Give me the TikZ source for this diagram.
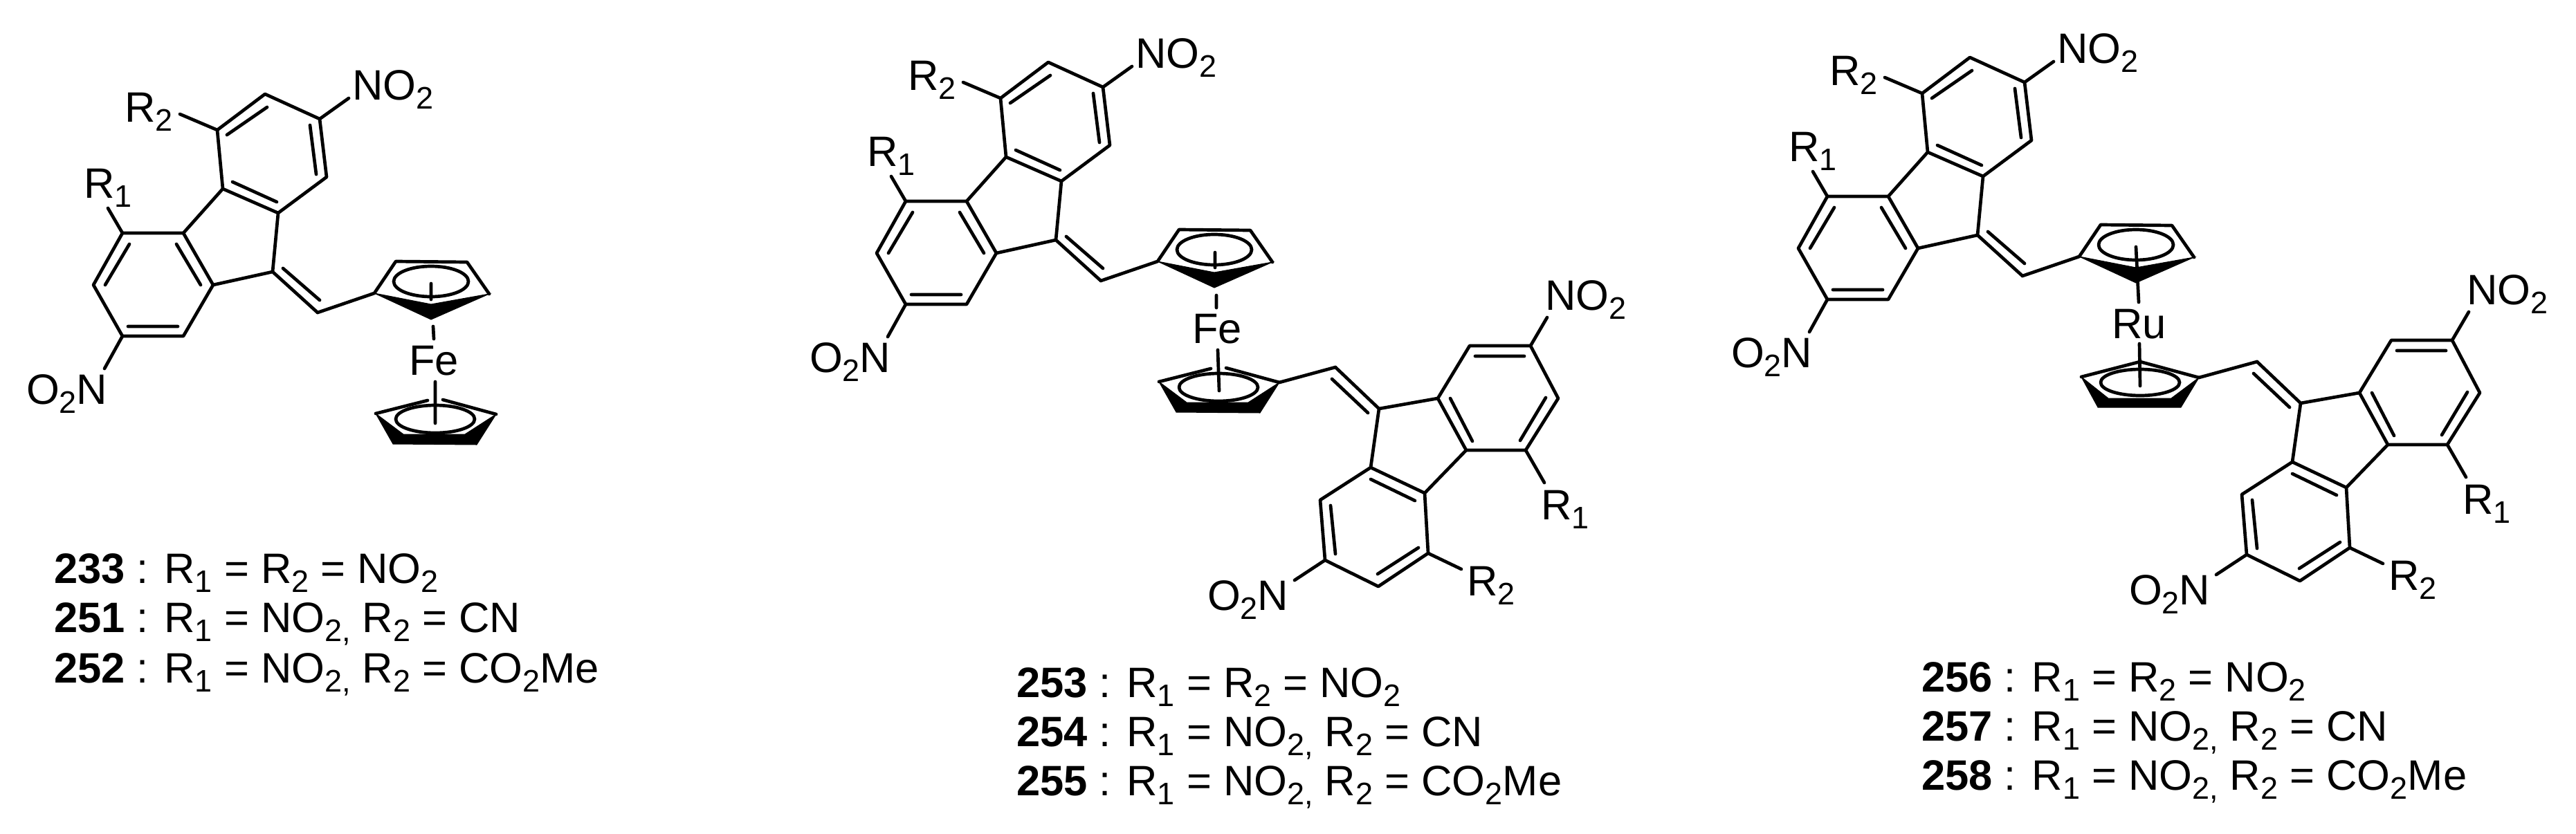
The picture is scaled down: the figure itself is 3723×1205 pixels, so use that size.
\documentclass[tikz,border=0pt]{standalone}
\usepackage{fontspec}
\setmainfont{Liberation Sans}
\newcommand{\chs}[1]{\raisebox{-13pt}{\fontsize{45}{45}\selectfont #1}}
\newcommand{\NOtwo}{NO\chs{2}}
\newcommand{\OtwoN}{O\chs{2}N}
\tikzset{
  bond/.style={line width=4.7pt,line cap=round,line join=round,black},
  wedge/.style={fill=black,draw=black,line width=1pt,line join=miter},
  lab/.style={anchor=base west,inner sep=0pt,outer sep=0pt,font=\fontsize{61.5}{72}\selectfont,text=black}
}
% bonds shared by each fluorenylidene unit; every point is a named coordinate
\newcommand{\molbonds}[1]{
  \draw[bond] (#1t1)--(#1t2)--(#1t3)--(#1t4)--(#1t5)--(#1t6)--cycle;
  \draw[bond] (#1l1)--(#1l2)--(#1l3)--(#1l4)--(#1l5)--(#1l6)--cycle;
  \draw[bond] (#1t6)--(#1l1) (#1t5)--(#1c9)--(#1l6) (#1c9)--(#1ch);
  \draw[bond] (#1t3)--(#1en1) (#1l4)--(#1en2) (#1t1)--(#1er2) (#1l2)--(#1er1);
  \draw[bond] (#1i1a)--(#1i1b) (#1i2a)--(#1i2b) (#1i3a)--(#1i3b) (#1i4a)--(#1i4b)
              (#1i5a)--(#1i5b) (#1i6a)--(#1i6b) (#1i7a)--(#1i7b);
}
% upper unit, as in compound 233, shifted by (#2,#3)
\newcommand{\upperunit}[3]{
 \begin{scope}[shift={(#2,#3)}]
  \coordinate (#1t1) at (314,188); \coordinate (#1t2) at (383,136); \coordinate (#1t3) at (462,172);
  \coordinate (#1t4) at (472,256); \coordinate (#1t5) at (402,308); \coordinate (#1t6) at (322,273);
  \coordinate (#1l1) at (265,337); \coordinate (#1l2) at (177,337); \coordinate (#1l3) at (135,412);
  \coordinate (#1l4) at (177,486); \coordinate (#1l5) at (265,486); \coordinate (#1l6) at (308,412);
  \coordinate (#1c9) at (394,393); \coordinate (#1ch) at (459,452);
  \coordinate (#1en1) at (504,142); \coordinate (#1en2) at (151,533);
  \coordinate (#1er2) at (260,165); \coordinate (#1er1) at (156,301);
  \coordinate (#1i1a) at (409,388); \coordinate (#1i1b) at (462,434);
  \coordinate (#1i2a) at (328,195); \coordinate (#1i2b) at (386,155);
  \coordinate (#1i3a) at (448,181); \coordinate (#1i3b) at (457,252);
  \coordinate (#1i4a) at (336,263); \coordinate (#1i4b) at (400,292);
  \coordinate (#1i5a) at (255,353); \coordinate (#1i5b) at (290,412);
  \coordinate (#1i6a) at (187,353); \coordinate (#1i6b) at (152,412);
  \coordinate (#1i7a) at (185,472); \coordinate (#1i7b) at (257,472);
  \node[lab] (#1no) at (509,144) {\NOtwo};
  \node[lab] (#1on) at (38,584) {\OtwoN};
  \node[lab] (#1r2) at (180,176) {R\chs{2}};
  \node[lab] (#1r1) at (121,286) {R\chs{1}};
  \molbonds{#1}
  % upper cyclopentadienyl ring
  \coordinate (#1cL) at (541,424); \coordinate (#1cTL) at (572,378); \coordinate (#1cTR) at (675,379);
  \coordinate (#1cR) at (707,425); \coordinate (#1cB) at (623,462); \coordinate (#1cN) at (623,440);
  \coordinate (#1cC) at (623,407);
  \draw[bond] (#1ch)--(#1cL)--(#1cTL)--(#1cTR)--(#1cR);
  \fill[wedge] (#1cL)--(#1cB)--(#1cR)--(#1cN)--cycle;
  \draw[bond] (#1cC) ellipse [x radius=54pt,y radius=22pt];
 \end{scope}
}
% lower unit, as in compound 253, shifted by (#2,#3)
\newcommand{\lowerunit}[3]{
 \begin{scope}[shift={(#2,#3)}]
  \coordinate (#1t1) at (2064,800); \coordinate (#1t2) at (1992,848); \coordinate (#1t3) at (1915,810);
  \coordinate (#1t4) at (1908,723); \coordinate (#1t5) at (1981,676); \coordinate (#1t6) at (2059,713);
  \coordinate (#1l1) at (2119,651); \coordinate (#1l2) at (2205,651); \coordinate (#1l3) at (2252,576);
  \coordinate (#1l4) at (2212,500); \coordinate (#1l5) at (2124,500); \coordinate (#1l6) at (2078,576);
  \coordinate (#1c9) at (1993,591); \coordinate (#1ch) at (1930,531);
  \coordinate (#1en1) at (1871,839); \coordinate (#1en2) at (2236,459);
  \coordinate (#1er2) at (2112,823); \coordinate (#1er1) at (2232,698);
  \coordinate (#1i1a) at (1925,548); \coordinate (#1i1b) at (1977,597);
  \coordinate (#1i2a) at (2050,792); \coordinate (#1i2b) at (1991,830);
  \coordinate (#1i3a) at (1930,801); \coordinate (#1i3b) at (1923,731);
  \coordinate (#1i4a) at (1981,693); \coordinate (#1i4b) at (2045,724);
  \coordinate (#1i5a) at (2128,638); \coordinate (#1i5b) at (2096,576);
  \coordinate (#1i6a) at (2197,637); \coordinate (#1i6b) at (2234,575);
  \coordinate (#1i7a) at (2203,515); \coordinate (#1i7b) at (2132,515);
  \node[lab] (#1no) at (2233,448) {\NOtwo};
  \node[lab] (#1on) at (1745,882) {\OtwoN};
  \node[lab] (#1r2) at (2120,861) {R\chs{2}};
  \node[lab] (#1r1) at (2227,751) {R\chs{1}};
  \molbonds{#1}
 \end{scope}
}
% lower ring with a gap at the apex (ferrocene), shifted by (#2,#3)
\newcommand{\lowercp}[3]{
 \begin{scope}[shift={(#2,#3)}]
  \coordinate (#1dL) at (543,598); \coordinate (#1dGa) at (618,579); \coordinate (#1dGb) at (640,578);
  \coordinate (#1dR) at (717,599); \coordinate (#1dBL) at (568,642); \coordinate (#1dBR) at (689,643);
  \coordinate (#1dIL) at (583,628); \coordinate (#1dIR) at (672,628); \coordinate (#1dC) at (629,606);
  \draw[bond] (#1dL)--(#1dGa) (#1dGb)--(#1dR);
  \fill[wedge] (#1dL)--(#1dBL)--(#1dBR)--(#1dR)--(#1dIR)--(#1dIL)--cycle;
  \draw[bond] (#1dC) ellipse [x radius=57pt,y radius=20pt];
 \end{scope}
}
\newcommand{\serieslabel}[5]{ % name, x, y, bold number, rest
  \node[lab] (#1) at (#2,#3) {\textbf{#4} : #5};
}
\begin{document}
\begin{tikzpicture}[x=1pt,y=-1pt]
\useasboundingbox (0,0) rectangle (3723,1205);
\fill[white] (0,0) rectangle (3723,1205);

% ---- compound 233/251/252 ----
\upperunit{a}{0}{0}
\node[lab] (afe) at (591,542) {Fe};
\coordinate (as1) at (623,410); \coordinate (as2) at (623,433);
\coordinate (as3) at (626,472); \coordinate (as4) at (627,490);
\coordinate (as5) at (629,552); \coordinate (as6) at (629,612);
\lowercp{a}{0}{0}
\draw[bond] (as1)--(as2) (as3)--(as4) (as5)--(as6);
\serieslabel{la}{78}{843}{233}{R\chs{1} = R\chs{2} = \NOtwo}
\serieslabel{lb}{78}{914}{251}{R\chs{1} = NO\chs{2,} R\chs{2} = CN}
\serieslabel{lc}{78}{987}{252}{R\chs{1} = NO\chs{2,} R\chs{2} = CO\chs{2}Me}

% ---- compound 253/254/255 ----
\upperunit{b}{1132}{-46}
\node[lab] (bfe) at (1723,496) {Fe};
\coordinate (bs1) at (1756,365); \coordinate (bs2) at (1756,387);
\coordinate (bs3) at (1758,427); \coordinate (bs4) at (1758,445);
\coordinate (bs5) at (1760,506); \coordinate (bs6) at (1762,565);
\lowercp{b}{1132}{-46}
\lowerunit{c}{0}{0}
\draw[bond] (bs1)--(bs2) (bs3)--(bs4) (bs5)--(bs6);
\draw[bond] (bdR)--(cch);
\serieslabel{ld}{1469}{1008}{253}{R\chs{1} = R\chs{2} = \NOtwo}
\serieslabel{le}{1469}{1079}{254}{R\chs{1} = NO\chs{2,} R\chs{2} = CN}
\serieslabel{lf}{1469}{1150}{255}{R\chs{1} = NO\chs{2,} R\chs{2} = CO\chs{2}Me}

% ---- compound 256/257/258 ----
\upperunit{d}{2464}{-53}
\node[lab] (dru) at (3052,489) {Ru};
\coordinate (ds1) at (3087,357); \coordinate (ds2) at (3091,437);
\coordinate (ds5) at (3092,497); \coordinate (ds6) at (3093,558);
\lowerunit{e}{1332}{-8}
\coordinate (fL) at (3008,545); \coordinate (fA) at (3093,523); \coordinate (fR) at (3178,546);
\coordinate (fBL) at (3032,589); \coordinate (fBR) at (3152,589);
\coordinate (fIL) at (3047,576); \coordinate (fIR) at (3138,576); \coordinate (fC) at (3093,553);
\draw[bond] (fL)--(fA)--(fR);
\fill[wedge] (fL)--(fBL)--(fBR)--(fR)--(fIR)--(fIL)--cycle;
\draw[bond] (fC) ellipse [x radius=57pt,y radius=19pt];
\draw[bond] (ds1)--(ds2) (ds5)--(ds6);
\draw[bond] (fR)--(ech);
\serieslabel{lg}{2777}{1000}{256}{R\chs{1} = R\chs{2} = \NOtwo}
\serieslabel{lh}{2777}{1071}{257}{R\chs{1} = NO\chs{2,} R\chs{2} = CN}
\serieslabel{li}{2777}{1142}{258}{R\chs{1} = NO\chs{2,} R\chs{2} = CO\chs{2}Me}
\end{tikzpicture}
\end{document}
